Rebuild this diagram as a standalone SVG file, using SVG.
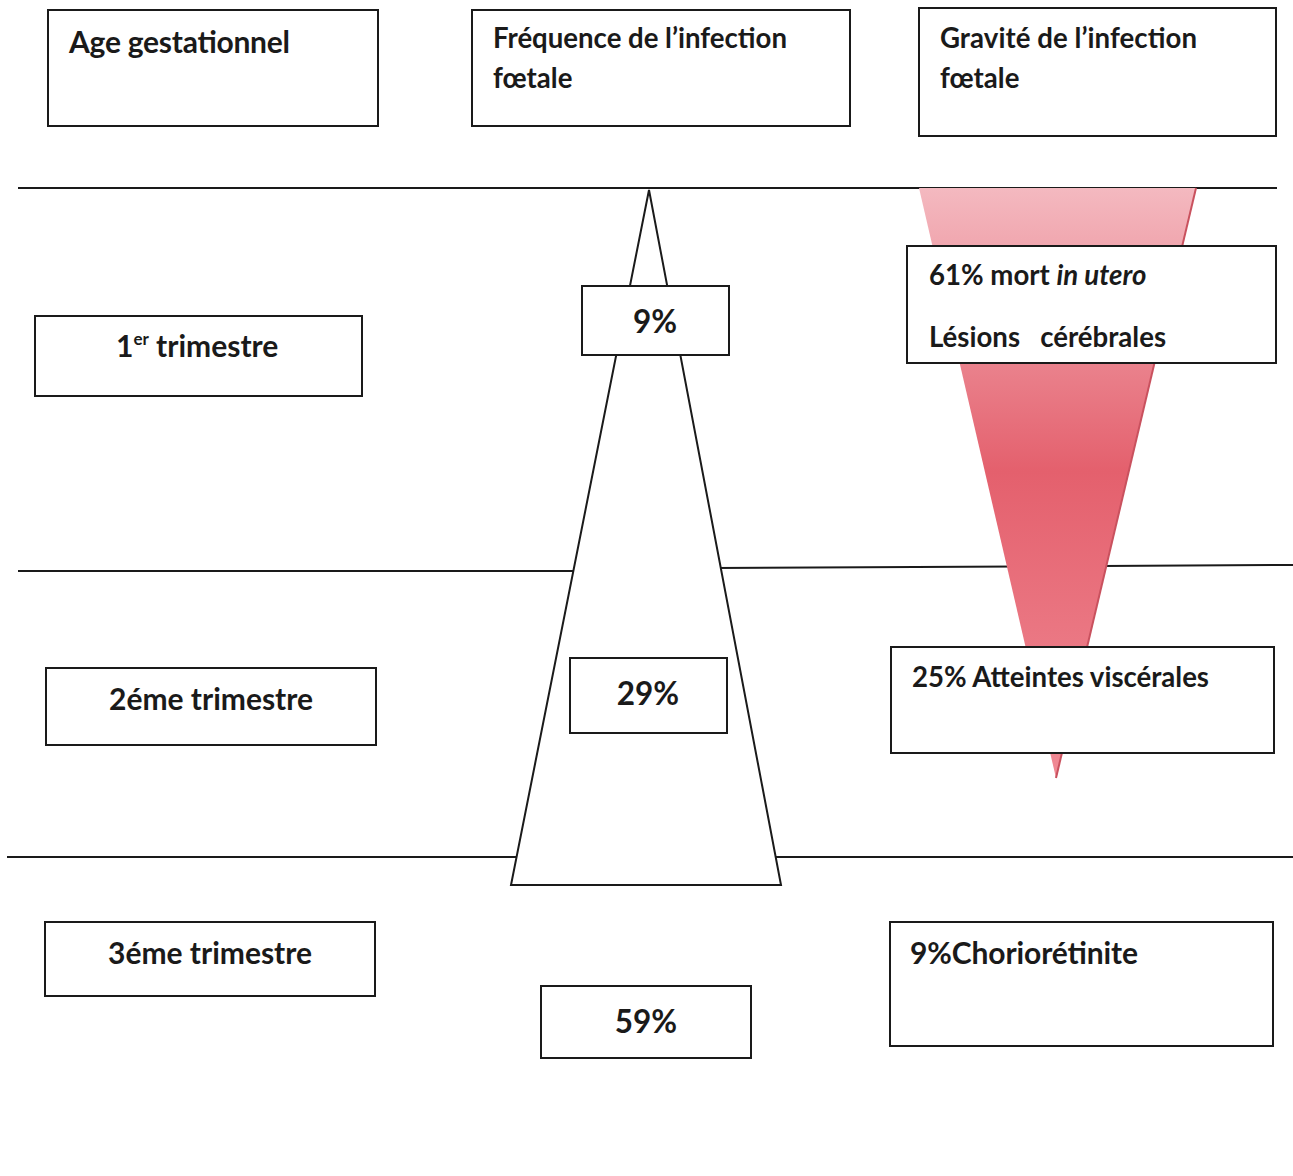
<svg xmlns="http://www.w3.org/2000/svg" width="1293" height="1176" viewBox="0 0 1293 1176">
<style>
.box{fill:#fff;stroke:#1a1a1a;stroke-width:2}
.ln{stroke:#1a1a1a;stroke-width:2;fill:none}
text{font-family:Lato,"Open Sans","Liberation Sans",sans-serif;font-weight:bold;fill:#1a1a1a;font-size:27.6px}
.lg{font-size:30px}
.big{font-size:31.5px}
</style>
<defs>
<linearGradient id="red" x1="0" y1="0" x2="0" y2="1">
<stop offset="0" stop-color="#f4b9c0"/>
<stop offset="0.48" stop-color="#e4606d"/>
<stop offset="1" stop-color="#f08a95"/>
</linearGradient>
</defs>
<g id="connectors">
<line class="ln" x1="18" y1="188" x2="1277" y2="188"/>
<line class="ln" x1="18" y1="571" x2="580" y2="571"/>
<line class="ln" x1="715" y1="568" x2="1293" y2="565"/>
<line class="ln" x1="7" y1="857" x2="520" y2="857"/>
<line class="ln" x1="775" y1="857" x2="1293" y2="857"/>
</g>
<g id="severity-wedge">
<polygon points="919,188 1196,188 1056,778" fill="url(#red)"/>
<line x1="1196" y1="188" x2="1056" y2="778" stroke="#c9515e" stroke-width="2"/>
</g>
<g id="frequency-wedge">
<polygon class="box" points="649,190 511,885 781,885"/>
</g>
<g id="age-header"><rect class="box" x="48" y="10" width="330" height="116"/><text class="lg" x="69" y="53" textLength="221">Age gestationnel</text></g>
<g id="freq-header"><rect class="box" x="472" y="10" width="378" height="116"/><text x="493" y="48" textLength="294">Fréquence de l’infection</text><text x="493" y="88">fœtale</text></g>
<g id="grav-header"><rect class="box" x="919" y="8" width="357" height="128"/><text x="940" y="48" textLength="257">Gravité de l’infection</text><text x="940" y="88">fœtale</text></g>
<g id="t1"><rect class="box" x="35" y="316" width="327" height="80"/><text class="lg" x="116" y="357">1<tspan font-size="17" dy="-12">er</tspan><tspan dy="12"> trimestre</tspan></text></g>
<g id="f1"><rect class="box" x="582" y="286" width="147" height="69"/><text class="big" x="655" y="333" text-anchor="middle">9%</text></g>
<g id="g1"><rect class="box" x="907" y="246" width="369" height="117"/><text x="929" y="285">61% mort <tspan font-style="italic">in utero</tspan></text><text x="929" y="347" xml:space="preserve">Lésions   cérébrales</text></g>
<g id="t2"><rect class="box" x="46" y="668" width="330" height="77"/><text class="lg" x="109" y="710" textLength="204">2éme trimestre</text></g>
<g id="f2"><rect class="box" x="570" y="658" width="157" height="75"/><text class="big" x="648" y="705" text-anchor="middle">29%</text></g>
<g id="g2"><rect class="box" x="891" y="647" width="383" height="106"/><text x="912" y="687" textLength="297">25% Atteintes viscérales</text></g>
<g id="t3"><rect class="box" x="45" y="922" width="330" height="74"/><text class="lg" x="108" y="964" textLength="204">3éme trimestre</text></g>
<g id="f3"><rect class="box" x="541" y="986" width="210" height="72"/><text class="big" x="646" y="1033" text-anchor="middle">59%</text></g>
<g id="g3"><rect class="box" x="890" y="922" width="383" height="124"/><text class="lg" x="910" y="964" textLength="228">9%Choriorétinite</text></g>
</svg>
